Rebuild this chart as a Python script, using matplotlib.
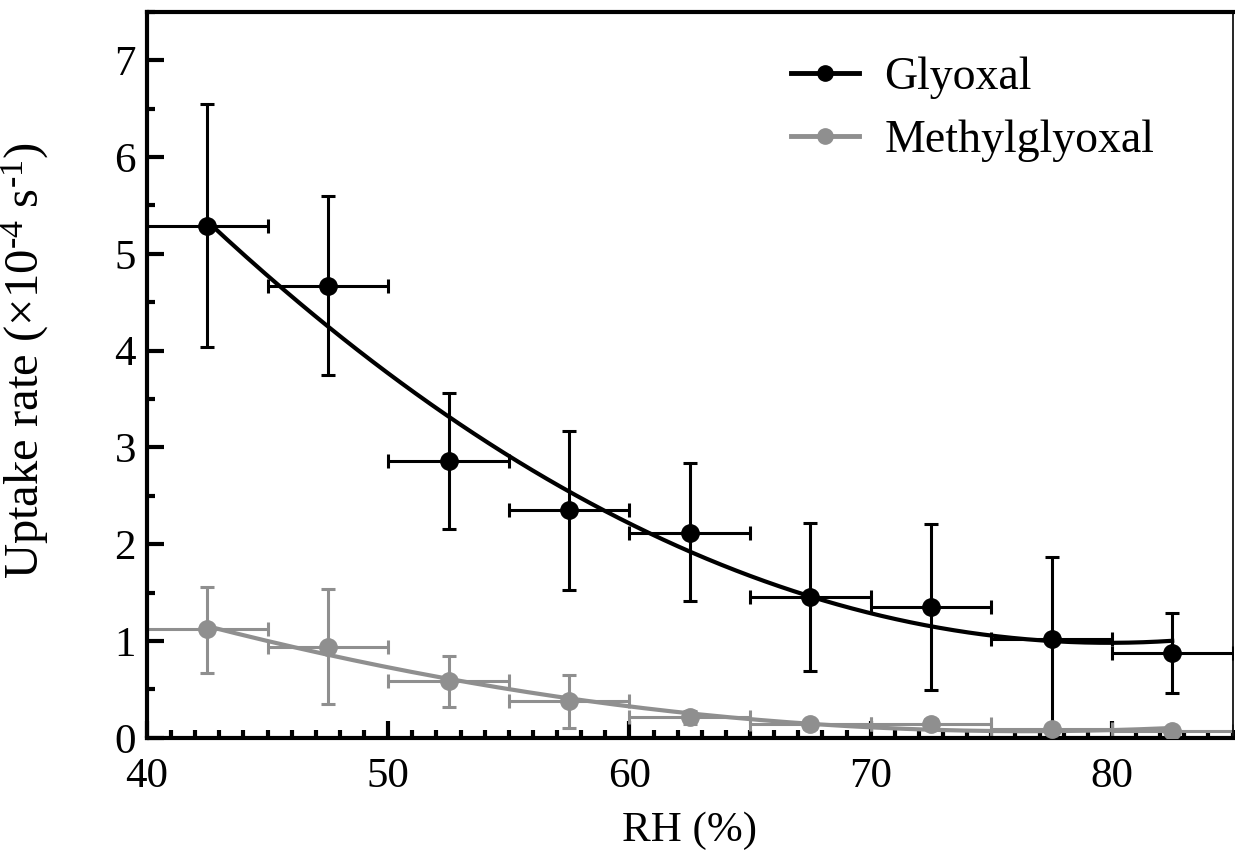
import numpy as np
import matplotlib
matplotlib.use("Agg")
import matplotlib.pyplot as plt
from matplotlib.ticker import MultipleLocator

rh = [42.5, 47.5, 52.5, 57.5, 62.5, 67.5, 72.5, 77.5, 82.5]
rh_err = [2.5] * 9

gly = [5.29, 4.67, 2.86, 2.35, 2.12, 1.45, 1.35, 1.02, 0.88]
gly_hi = [6.55, 5.60, 3.56, 3.17, 2.84, 2.22, 2.21, 1.87, 1.29]
gly_lo = [4.04, 3.75, 2.16, 1.53, 1.41, 0.69, 0.49, 0.13, 0.46]

mgly = [1.12, 0.94, 0.59, 0.38, 0.21, 0.14, 0.14, 0.09, 0.07]
mgly_hi = [1.56, 1.54, 0.85, 0.65, 0.28, 0.18, 0.19, 0.10, 0.08]
mgly_lo = [0.67, 0.35, 0.32, 0.10, 0.14, 0.09, 0.09, 0.08, 0.06]

plt.rcParams["font.family"] = "Liberation Serif"
plt.rcParams["mathtext.fontset"] = "custom"
plt.rcParams["mathtext.rm"] = "Liberation Serif"
plt.rcParams["mathtext.it"] = "Liberation Serif:italic"

fig = plt.figure(figsize=(12.35, 8.5), dpi=100)
ax = fig.add_axes([0.119, 0.132, 0.879, 0.854])

series = [("Glyoxal", gly, gly_lo, gly_hi, "black"),
          ("Methylglyoxal", mgly, mgly_lo, mgly_hi, "#8f8f8f")]
for name, y, lo, hi, col in series:
    y = np.array(y)
    yerr = [y - np.array(lo), np.array(hi) - y]
    ax.errorbar(rh, y, xerr=rh_err, yerr=yerr, fmt="none", ecolor=col,
                elinewidth=2.2, capsize=5, capthick=2.2, zorder=2)
    coef = np.polyfit(rh, y, 2)          # quadratic fit through the points
    xs = np.linspace(rh[0], rh[-1], 200)
    ax.plot(xs, np.polyval(coef, xs), color=col, lw=3, zorder=3)
    ax.plot(rh, y, "o", color=col, ms=12.5, zorder=4)
    ax.plot([], [], "-o", color=col, lw=3.5, ms=11, label=name)

ax.set_xlim(40, 85)
ax.set_ylim(0, 7.5)
ax.xaxis.set_major_locator(MultipleLocator(10))
ax.xaxis.set_minor_locator(MultipleLocator(1))
ax.yaxis.set_major_locator(MultipleLocator(1))
ax.yaxis.set_minor_locator(MultipleLocator(0.5))
ax.tick_params(which="both", direction="in", width=3, labelsize=31,
               top=False, right=False)
ax.tick_params(axis="x", which="major", length=12, pad=14)
ax.tick_params(axis="y", which="major", length=12, pad=8)
ax.tick_params(which="minor", length=6)
for s in ["left", "bottom", "top"]:
    ax.spines[s].set_linewidth(3)
ax.spines["right"].set_linewidth(1.2)

ax.set_xlabel("RH (%)", fontsize=31)
ax.xaxis.set_label_coords(0.5, -0.102)
ax.set_ylabel("Uptake rate (×10$^{\u20104}$ s$^{\u20101}$)", fontsize=35)
ax.yaxis.set_label_coords(-0.088, 0.52)

ax.legend(loc="upper right", frameon=False, fontsize=33, handlelength=1.5,
          bbox_to_anchor=(0.966, 0.996), labelspacing=0.45, handletextpad=0.55)

fig.savefig("out.png", dpi=100)
